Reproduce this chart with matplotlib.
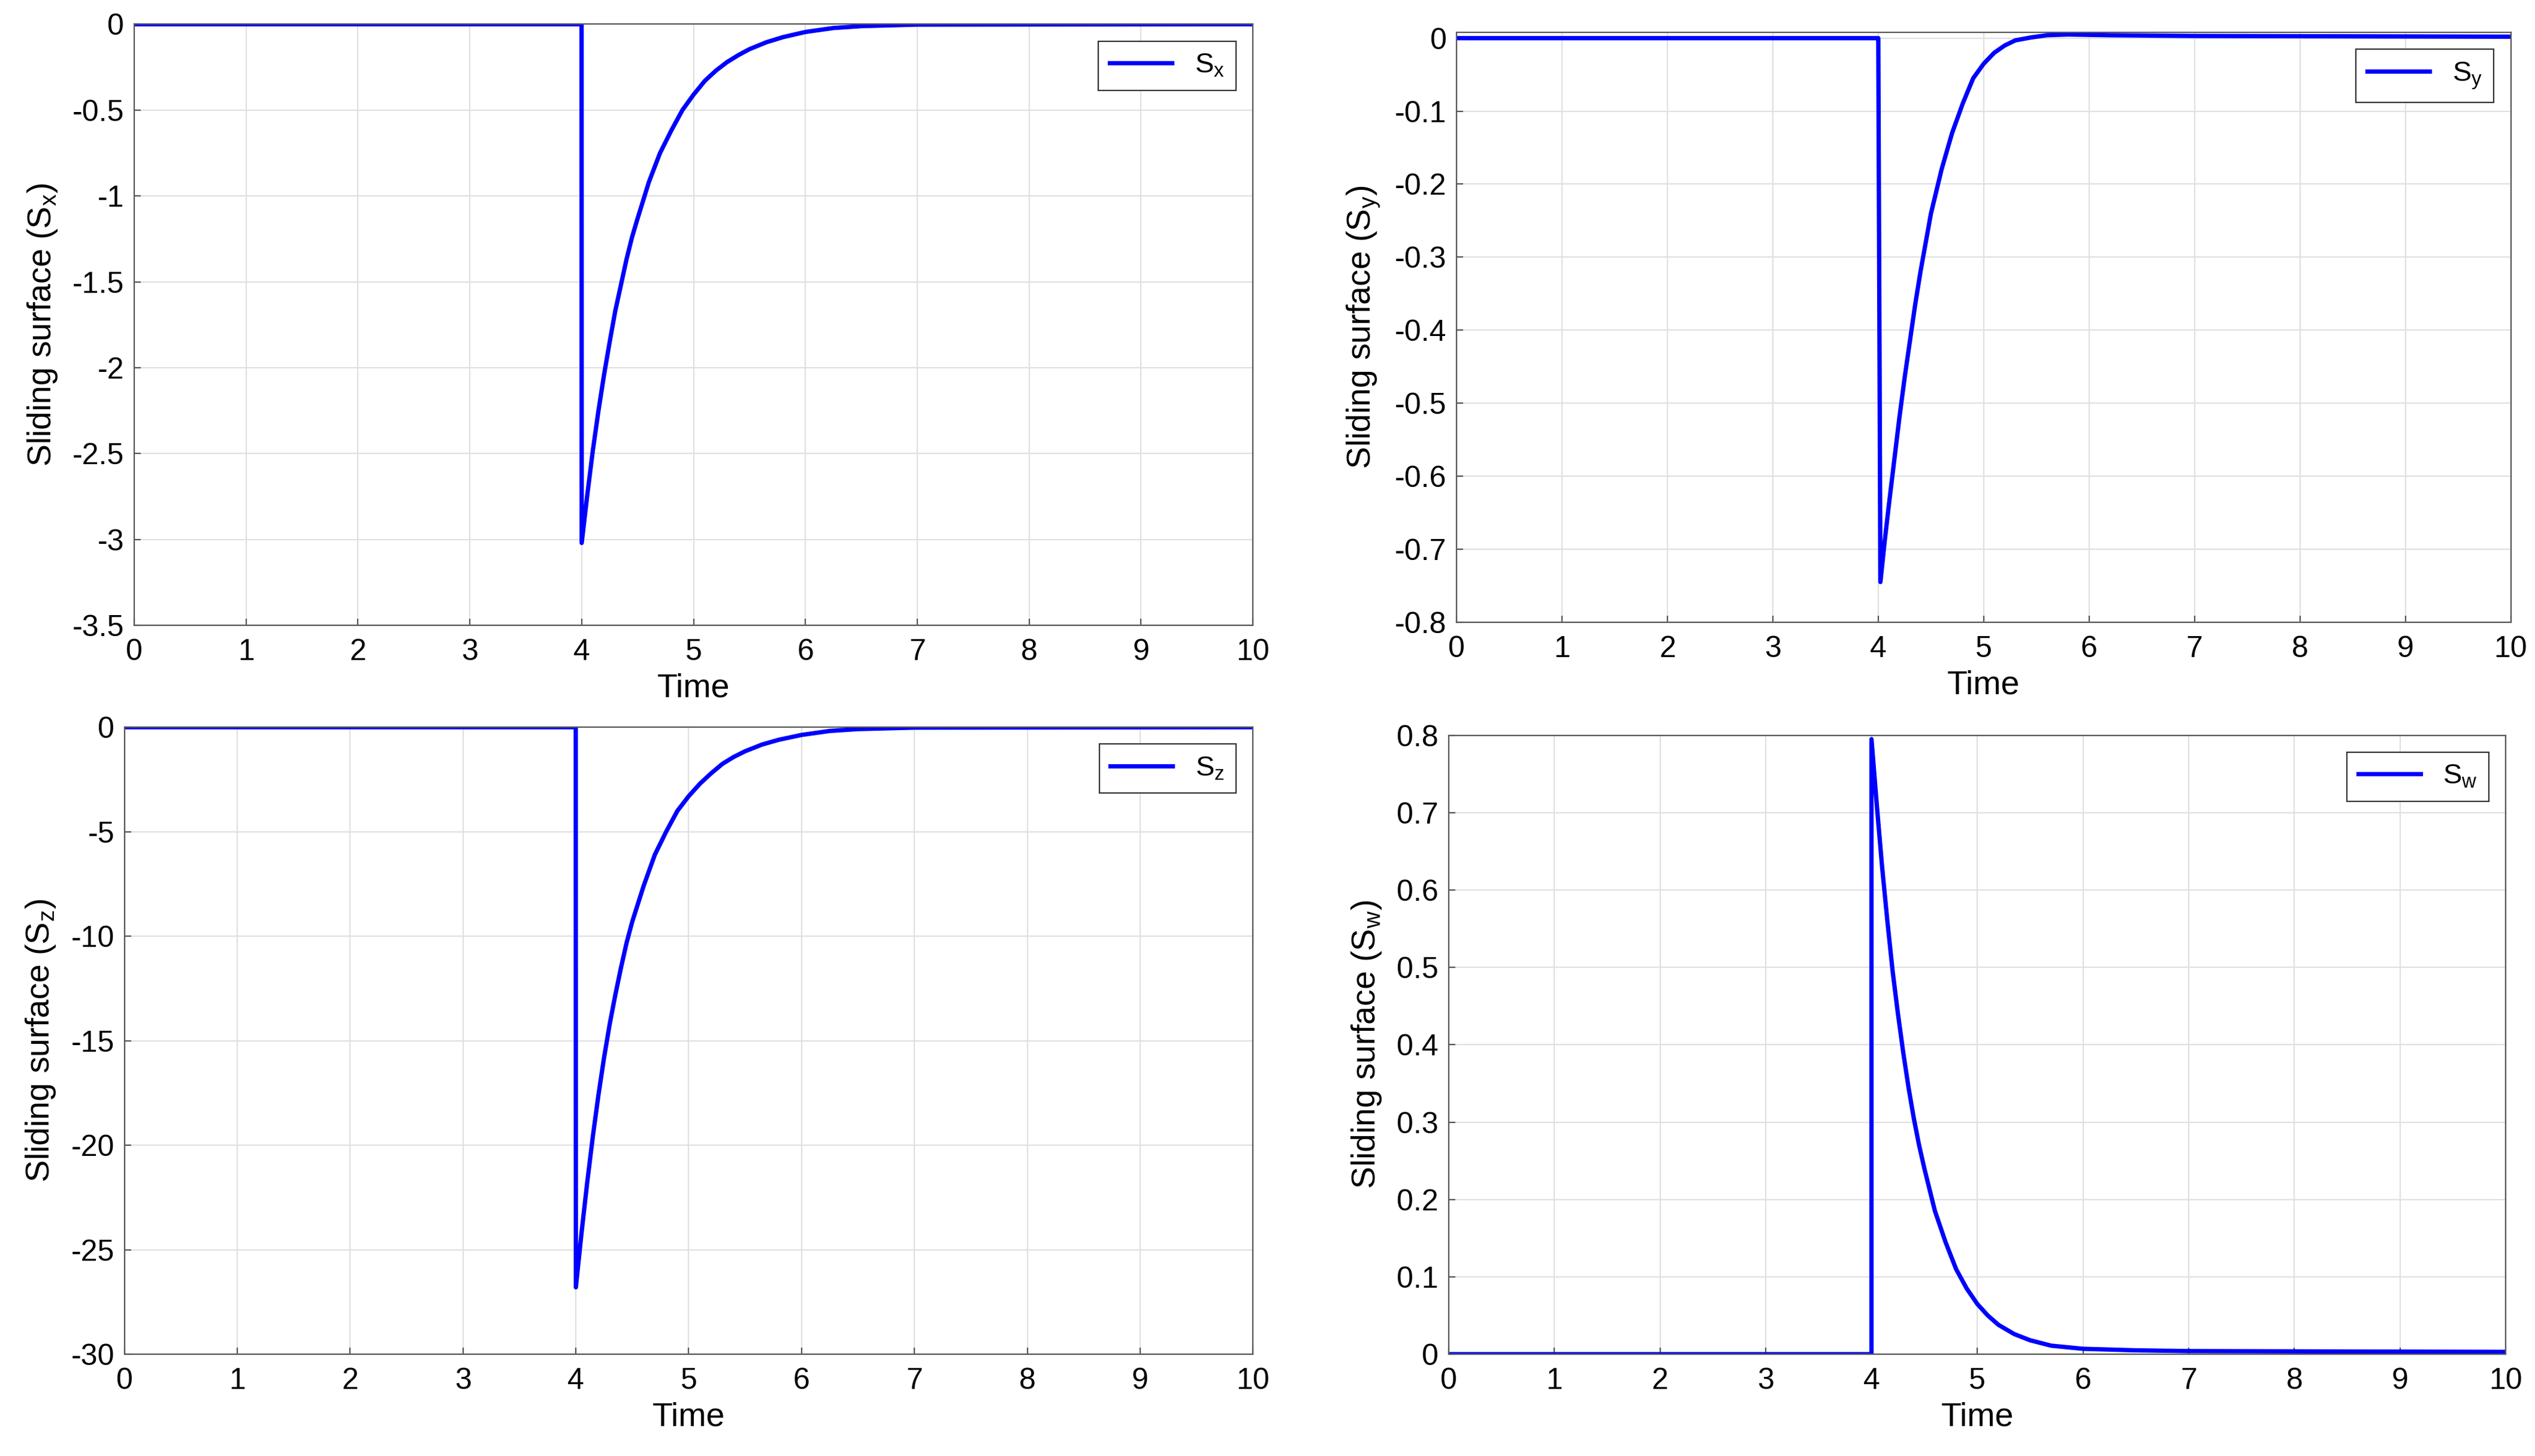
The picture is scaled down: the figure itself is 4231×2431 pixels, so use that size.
import matplotlib
matplotlib.use("Agg")
import matplotlib.pyplot as plt

plt.rcParams['font.family'] = ['Liberation Sans', 'DejaVu Sans']
plt.rcParams['mathtext.fontset'] = 'custom'
plt.rcParams['mathtext.rm'] = 'Liberation Sans'

t_pre = [0, 3.999]
tx = [4.0, 4.05, 4.1, 4.15, 4.2, 4.25, 4.3, 4.35, 4.4, 4.45, 4.5, 4.6, 4.7, 4.8, 4.9, 5.0,
      5.1, 5.2, 5.3, 5.4, 5.5, 5.65, 5.8, 6.0, 6.25, 6.5, 7.0, 10.0]
sx = [-3.02, -2.74, -2.48, -2.25, -2.04, -1.85, -1.67, -1.52, -1.37, -1.24, -1.13, -0.92,
      -0.75, -0.62, -0.50, -0.41, -0.33, -0.27, -0.22, -0.18, -0.145, -0.105, -0.075,
      -0.045, -0.022, -0.011, -0.002, 0.0]
ty = [4.0, 4.02, 4.06, 4.1, 4.15, 4.2, 4.25, 4.3, 4.35, 4.4, 4.45, 4.5, 4.6, 4.7, 4.8,
      4.9, 5.0, 5.1, 5.2, 5.3, 5.45, 5.6, 5.8, 6.2, 7.0, 10.0]
sy = [0.0, -0.745, -0.69, -0.64, -0.58, -0.52, -0.465, -0.415, -0.365, -0.32, -0.28,
      -0.24, -0.18, -0.13, -0.09, -0.055, -0.035, -0.02, -0.01, -0.003, 0.001, 0.004,
      0.005, 0.004, 0.003, 0.002]
tz = [4.0, 4.05, 4.1, 4.15, 4.2, 4.25, 4.3, 4.35, 4.4, 4.45, 4.5, 4.6, 4.7, 4.8, 4.9, 5.0,
      5.1, 5.2, 5.3, 5.4, 5.5, 5.65, 5.8, 6.0, 6.25, 6.5, 7.0, 10.0]
sz = [-26.8, -24.2, -21.8, -19.6, -17.6, -15.8, -14.2, -12.8, -11.5, -10.3, -9.3, -7.6,
      -6.1, -5.0, -4.0, -3.3, -2.7, -2.2, -1.75, -1.42, -1.15, -0.83, -0.6, -0.37,
      -0.18, -0.09, -0.02, 0.0]
tw = [4.0, 4.0, 4.05, 4.1, 4.15, 4.2, 4.25, 4.3, 4.35, 4.4, 4.45, 4.5, 4.6, 4.7, 4.8,
      4.9, 5.0, 5.1, 5.2, 5.35, 5.5, 5.7, 6.0, 6.5, 7.0, 10.0]
sw = [0.0, 0.795, 0.71, 0.63, 0.56, 0.495, 0.44, 0.39, 0.345, 0.305, 0.27, 0.24, 0.185,
      0.145, 0.11, 0.085, 0.065, 0.05, 0.038, 0.026, 0.018, 0.011, 0.007, 0.005, 0.004,
      0.003]

panels = [
    ('x', tx, sx, (-3.5, 0), [-3.5, -3, -2.5, -2, -1.5, -1, -0.5, 0], [83, 15, 775, 387]),
    ('y', ty, sy, (-0.8, 0.008), [-0.8, -0.7, -0.6, -0.5, -0.4, -0.3, -0.2, -0.1, 0], [901, 20, 1553, 385]),
    ('z', tz, sz, (-30, 0), [-30, -25, -20, -15, -10, -5, 0], [77, 450, 775, 838]),
    ('w', tw, sw, (0, 0.8), [0, 0.1, 0.2, 0.3, 0.4, 0.5, 0.6, 0.7, 0.8], [896, 455, 1550, 838]),
]

W, H = 1568.0, 901.0
fig = plt.figure(figsize=(21.155, 12.155), dpi=200)
for name, t, s, ylim, yt, (x0, y0, x1, y1) in panels:
    ax = fig.add_axes([x0 / W, 1 - y1 / H, (x1 - x0) / W, (y1 - y0) / H])
    ax.plot(t_pre + t, [0, 0] + s, color='#0000ff', lw=2.6,
            label=r'S$_\mathregular{%s}$' % name)
    ax.set_xlim(0, 10)
    ax.set_ylim(*ylim)
    ax.set_xticks(range(11))
    ax.set_yticks(yt)
    ax.set_yticklabels([('%g' % v) for v in yt])
    ax.grid(True, color='#e0e0e0', lw=0.8)
    ax.tick_params(labelsize=18, direction='in', length=4, color='#555555')
    ax.tick_params(axis='x', pad=8)
    ax.tick_params(axis='y', pad=6)
    for sp in ax.spines.values():
        sp.set_color('#555555')
        sp.set_linewidth(0.8)
    ax.set_xlabel('Time', fontsize=20, labelpad=4)
    ax.set_ylabel(r'Sliding surface (S$_\mathregular{%s}$)' % name, fontsize=20, labelpad=8)
    leg = ax.legend(loc='upper right', fontsize=17, fancybox=False, framealpha=1,
                    edgecolor='#333333', handlelength=2.2, borderaxespad=0.6)
    leg.get_frame().set_linewidth(0.8)

fig.savefig('out.png', dpi=200)
